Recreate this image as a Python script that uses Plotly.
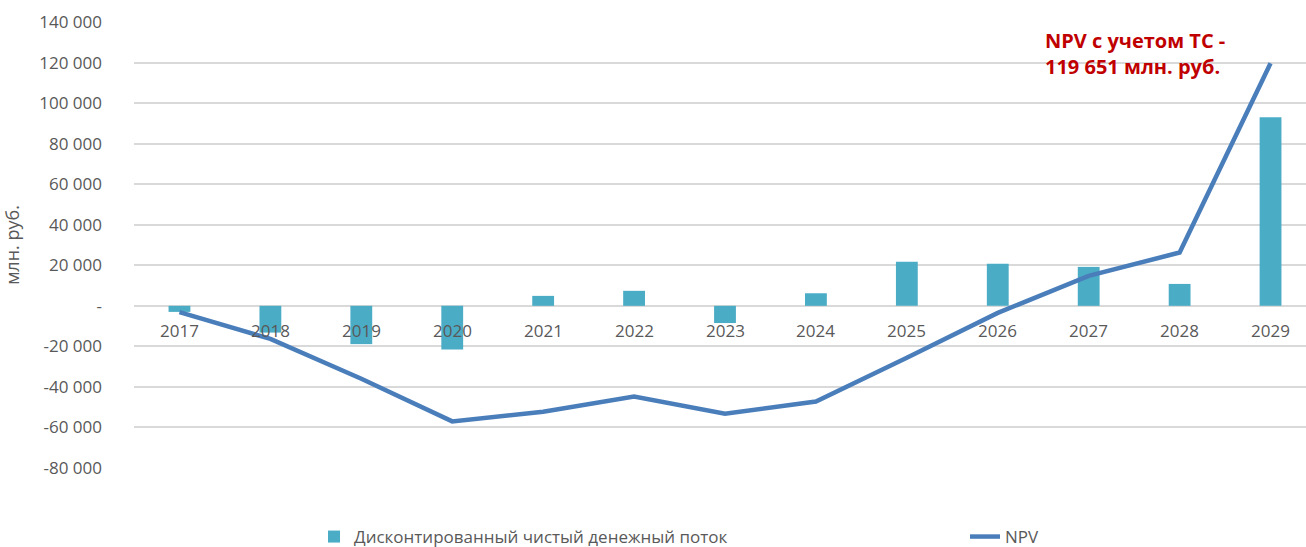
import plotly.graph_objects as go

# Годы прогноза
years = [2017, 2018, 2019, 2020, 2021, 2022, 2023, 2024, 2025, 2026, 2027, 2028, 2029]

# Дисконтированный чистый денежный поток, млн. руб.
dcf = [-3000, -13200, -18900, -21500, 4900, 7400, -8500, 6200, 21700, 20700, 19200, 10800, 93000]

# Накопленный NPV, млн. руб.
npv = [-3100, -16300, -36000, -57000, -52300, -44700, -53200, -47200, -25600, -3500, 14800, 26300, 119651]

# Подписи оси Y
y_ticks = [140000, 120000, 100000, 80000, 60000, 40000, 20000, 0, -20000, -40000, -60000, -80000]
y_tick_text = ["140 000", "120 000", "100 000", "80 000", "60 000", "40 000", "20 000", "-",
               "-20 000", "-40 000", "-60 000", "-80 000"]

FONT = "Open Sans, sans-serif"
GREY = "#595959"

# Область построения в пикселях
W, H = 1306, 547
L, R, T, B = 134, 0, 22, 79
PW, PH = W - L - R, H - T - B


def px_x(x):
    return (x - L) / PW


def px_y(y):
    return (H - B - y) / PH


fig = go.Figure()

fig.add_trace(go.Bar(
    x=years, y=dcf,
    name="Дисконтированный чистый денежный поток",
    marker=dict(color="#4BACC6", line=dict(width=0)),
    width=0.24,
    legend="legend",
))

fig.add_trace(go.Scatter(
    x=years, y=npv,
    name="NPV",
    mode="lines",
    line=dict(color="#4A7EBB", width=4.5),
    legend="legend2",
))

# Подписи годов у нулевой линии
for yr in years:
    fig.add_annotation(
        x=yr, y=0, xref="x", yref="y",
        text=str(yr), showarrow=False,
        yanchor="top", yshift=-11,
        font=dict(family=FONT, size=17, color=GREY),
    )

# Итоговое значение NPV
fig.add_annotation(
    x=px_x(1043), y=px_y(25), xref="paper", yref="paper",
    text="NPV с учетом ТС -<br>" + f"{npv[-1]:,}".replace(",", " ") + " млн. руб.",
    showarrow=False, align="left",
    xanchor="left", yanchor="top",
    font=dict(family=FONT, size=20, color="#C00000", weight="bold"),
)

legend_font = dict(family=FONT, size=17, color=GREY)

fig.update_layout(
    width=W, height=H,
    margin=dict(l=L, r=R, t=T, b=B, autoexpand=False),
    plot_bgcolor="white", paper_bgcolor="white",
    font=dict(family=FONT, size=17, color=GREY),
    showlegend=True,
    legend=dict(
        orientation="h",
        x=px_x(314), xanchor="left",
        y=px_y(537), yanchor="middle",
        font=legend_font, itemwidth=30,
        bgcolor="rgba(0,0,0,0)",
    ),
    legend2=dict(
        orientation="h",
        x=px_x(965), xanchor="left",
        y=px_y(537), yanchor="middle",
        font=legend_font, itemwidth=30,
        bgcolor="rgba(0,0,0,0)",
    ),
    xaxis=dict(
        range=[2016.5, 2029.39],
        showticklabels=False, showgrid=False, zeroline=False,
        ticks="",
    ),
    yaxis=dict(
        range=[-80000, 140000],
        tickvals=y_ticks, ticktext=y_tick_text,
        showgrid=True, gridcolor="#D9D9D9", gridwidth=1.5,
        zeroline=True, zerolinecolor="#D9D9D9", zerolinewidth=1.5,
        ticks="", ticklabelstandoff=31,
        title=dict(text="млн. руб.", standoff=14, font=dict(family=FONT, size=18, color=GREY)),
    ),
)

fig.write_html("out.html")
